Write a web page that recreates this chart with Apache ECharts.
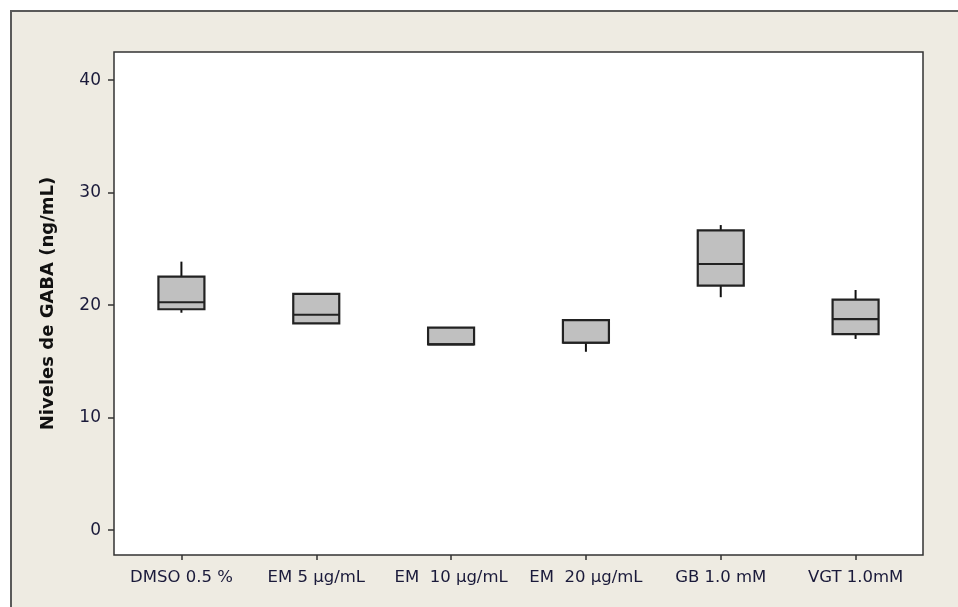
<!DOCTYPE html>
<html>
<head>
<meta charset="utf-8">
<script src="https://cdn.jsdelivr.net/npm/echarts@6/dist/echarts.min.js"></script>
<style>
  html, body { margin: 0; padding: 0; background: #ffffff; width: 958px; height: 607px; overflow: hidden; }
  #frame { position: absolute; left: 10px; top: 10px; width: 960px; height: 620px; background: #eeebe2; border: 2px solid #5a5a5a; box-sizing: border-box; }
  #chart { position: absolute; left: 0; top: 0; width: 958px; height: 607px; }
</style>
</head>
<body>
<div id="frame"></div>
<div id="chart"></div>
<script>
const categories = ['DMSO 0.5 %', 'EM 5 µg/mL', 'EM  10 µg/mL', 'EM  20 µg/mL', 'GB 1.0 mM', 'VGT 1.0mM'];
// [min, Q1, median, Q3, max]
const minValues    = [19.33, 18.39, 16.52, 15.86, 20.71, 17.00];
const q1Values     = [19.64, 18.39, 16.52, 16.66, 21.74, 17.42];
const medianValues = [20.26, 19.15, 16.52, 16.66, 23.66, 18.76];
const q3Values     = [22.54, 21.00, 18.00, 18.68, 26.64, 20.49];
const maxValues    = [23.87, 21.00, 18.00, 18.68, 27.12, 21.35];
const yTicks = [0, 10, 20, 30, 40];

const data = categories.map((c, i) => [i, minValues[i], q1Values[i], medianValues[i], q3Values[i], maxValues[i]]);

const chart = echarts.init(document.getElementById('chart'), null, { renderer: 'canvas' });
const BOX_W = 46;
chart.setOption({
  animation: false,
  backgroundColor: 'transparent',
  textStyle: { fontFamily: 'DejaVu Sans' },
  grid: {
    left: 114, top: 52, width: 809, height: 503,
    show: true, backgroundColor: '#ffffff', borderColor: '#333333', borderWidth: 1.5
  },
  xAxis: {
    type: 'category',
    data: categories,
    boundaryGap: true,
    axisLine: { show: false, onZero: false },
    axisTick: { show: true, alignWithLabel: true, length: 5, lineStyle: { color: '#333', width: 1.5 } },
    axisLabel: { color: '#1a1a3a', fontSize: 16.5, margin: 14, interval: 0 },
    splitLine: { show: false }
  },
  yAxis: {
    type: 'value',
    min: -2.2, max: 42.5,
    name: 'Niveles de GABA (ng/mL)',
    nameLocation: 'middle',
    nameGap: 57,
    nameRotate: 90,
    nameTextStyle: { fontWeight: 'bold', fontSize: 18, color: '#111' },
    axisLine: { show: false, onZero: false },
    axisTick: { show: true, length: 6, customValues: yTicks, lineStyle: { color: '#333', width: 1.5 } },
    axisLabel: { color: '#1a1a3a', fontSize: 17, margin: 13, customValues: yTicks },
    splitLine: { show: false }
  },
  series: [{
    type: 'custom',
    data: data,
    encode: { x: 0, y: [1, 2, 3, 4, 5] },
    renderItem: function (params, api) {
      const x = api.value(0);
      const pMin = api.coord([x, api.value(1)]);
      const pQ1 = api.coord([x, api.value(2)]);
      const pMed = api.coord([x, api.value(3)]);
      const pQ3 = api.coord([x, api.value(4)]);
      const pMax = api.coord([x, api.value(5)]);
      const cx = pQ1[0];
      const half = BOX_W / 2;
      const stroke = { stroke: '#222222', lineWidth: 2.2 };
      const children = [];
      if (pMax[1] < pQ3[1] - 0.5) {
        children.push({ type: 'line', shape: { x1: cx, y1: pQ3[1], x2: cx, y2: pMax[1] }, style: { stroke: '#111', lineWidth: 2 } });
      }
      if (pMin[1] > pQ1[1] + 0.5) {
        children.push({ type: 'line', shape: { x1: cx, y1: pQ1[1], x2: cx, y2: pMin[1] }, style: { stroke: '#111', lineWidth: 2 } });
      }
      children.push({ type: 'rect', shape: { x: cx - half, y: pQ3[1], width: BOX_W, height: pQ1[1] - pQ3[1] }, style: Object.assign({ fill: '#c0c0c0' }, stroke) });
      children.push({ type: 'line', shape: { x1: cx - half, y1: pMed[1], x2: cx + half, y2: pMed[1] }, style: stroke });
      return { type: 'group', children: children };
    }
  }]
});
</script>
</body>
</html>
